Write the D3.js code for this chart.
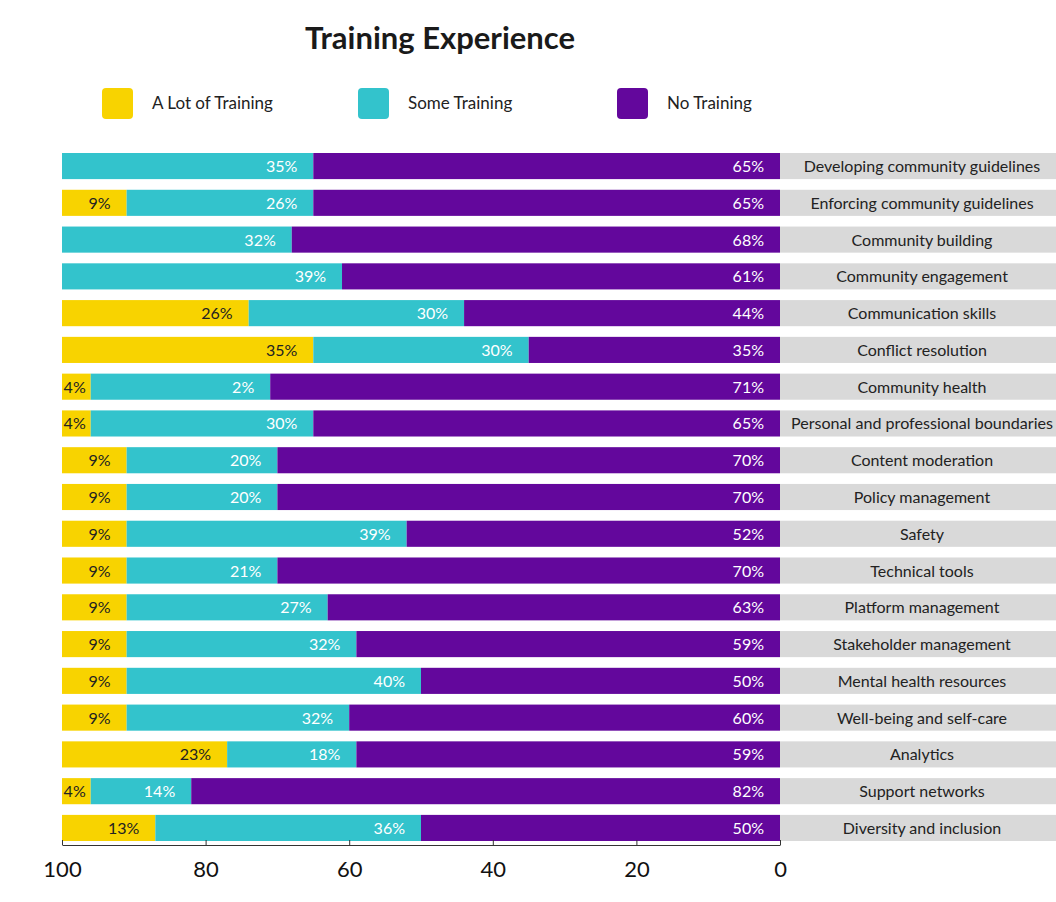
<!DOCTYPE html>
<html><head><meta charset="utf-8">
<script src="https://cdn.jsdelivr.net/npm/d3@7"></script>
<style>body{margin:0;background:#fff;font-family:Lato,"Open Sans",sans-serif}</style>
</head><body>
<svg id="chart" width="1056" height="902"></svg>
<script>
const categories = ["Developing community guidelines","Enforcing community guidelines","Community building","Community engagement","Communication skills","Conflict resolution","Community health","Personal and professional boundaries","Content moderation","Policy management","Safety","Technical tools","Platform management","Stakeholder management","Mental health resources","Well-being and self-care","Analytics","Support networks","Diversity and inclusion"];
const lotOfTraining = [0,9,0,0,26,35,4,4,9,9,9,9,9,9,9,9,23,4,13];
const someTraining = [35,26,32,39,30,30,2,30,20,20,39,21,27,32,40,32,18,14,36];
const noTraining = [65,65,68,61,44,35,71,65,70,70,52,70,63,59,50,60,59,82,50];
const seriesNames = ["A Lot of Training","Some Training","No Training"];
const colors = ["#F8D300","#33C3CC","#63079C"];
const ticks = [100,80,60,40,20,0];

const svg = d3.select("#chart");
const x = d3.scaleLinear().domain([100,0]).range([62,780]);
const y = d3.scaleBand().domain(categories).range([153,841]).paddingInner(0.29).paddingOuter(0);

// Titel
svg.append("text").attr("x",440).attr("y",49).attr("text-anchor","middle")
  .attr("font-size",31).attr("font-weight",700).attr("fill","#1a1a1a").text("Training Experience");

// Legende
const legX = [102,358,617];
seriesNames.forEach((n,i)=>{
  svg.append("rect").attr("x",legX[i]).attr("y",88).attr("width",31).attr("height",31).attr("rx",4).attr("fill",colors[i]);
  svg.append("text").attr("x",legX[i]+50).attr("y",109).attr("font-size",17).attr("fill","#222").text(n);
});

// graue Labelfelder
svg.selectAll(".band").data(categories).enter().append("rect")
  .attr("x",780).attr("y",d=>y(d)).attr("width",276).attr("height",y.bandwidth()).attr("fill","#d9d9d9");
svg.selectAll(".cat").data(categories).enter().append("text")
  .attr("x",922).attr("y",d=>y(d)+y.bandwidth()/2+6).attr("text-anchor","middle")
  .attr("font-size",16).attr("fill","#222").text(d=>d)
  .attr("textLength",d=>d.length>32?262:null).attr("lengthAdjust","spacingAndGlyphs");

// Balken: lila ab 0, gelb ab 100, türkis dazwischen
const rows = categories.map((c,i)=>{
  const p = noTraining[i], s = someTraining[i], l = lotOfTraining[i];
  return [
    {c, v:l, from:100-l, to:100, col:0},
    {c, v:s, from:p, to:100-l, col:1},
    {c, v:p, from:0, to:p, col:2}
  ];
}).flat();

svg.selectAll(".seg").data(rows.filter(d=>d.v>0)).enter().append("rect")
  .attr("x",d=>x(d.to)).attr("y",d=>y(d.c)).attr("width",d=>x(d.from)-x(d.to))
  .attr("height",y.bandwidth()).attr("fill",d=>colors[d.col]);

svg.selectAll(".val").data(rows.filter(d=>d.v>0)).enter().append("text")
  .attr("x",d=>x(d.from)-((x(d.from)-x(d.to))>50?16:5)).attr("y",d=>y(d.c)+y.bandwidth()/2+6)
  .attr("text-anchor","end").attr("font-size",16)
  .attr("fill",d=>d.col===0?"#222":"#fff").text(d=>d.v+"%");

// Achse
const ax = svg.append("g").attr("transform","translate(0,845)")
  .call(d3.axisBottom(x).tickValues(ticks).tickSizeInner(-5).tickSizeOuter(0).tickPadding(16));
ax.select(".domain").attr("stroke","#333");
ax.selectAll(".tick line").attr("stroke","#333");
ax.selectAll("text").attr("font-size",22).attr("fill","#111").attr("font-family","Lato,sans-serif");
</script>
</body></html>
